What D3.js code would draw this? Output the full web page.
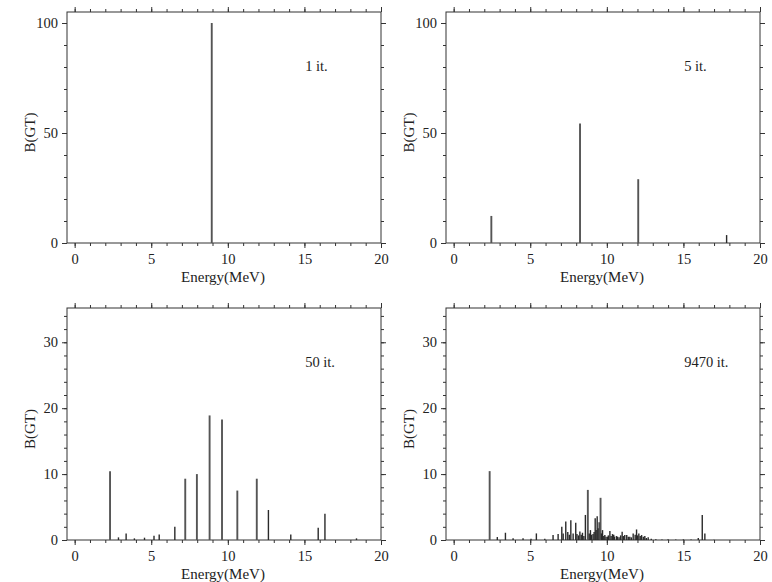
<!DOCTYPE html>
<html><head><meta charset="utf-8">
<script src="https://cdn.jsdelivr.net/npm/d3@7"></script>
<style>
html,body{margin:0;padding:0;background:#fff;}
svg{display:block;}
svg text{font-family:"Liberation Serif","Times New Roman","DejaVu Serif",serif;}
</style></head>
<body><svg id="chart" width="772" height="582"></svg>
<script>
// ---- data ----
const energyTicks = [0, 5, 10, 15, 20];
const energyMinor = d3.range(0, 21, 1);
const bgtTicksTop = [0, 50, 100];
const bgtMinorTop = d3.range(0, 105, 10);
const bgtTicksBottom = [0, 10, 20, 30];
const bgtMinorBottom = d3.range(0, 36, 2);

const iterLabels = ["1 it.", "5 it.", "50 it.", "9470 it."];

const iter1E = [8.95];
const iter1B = [100];

const iter5E = [2.46, 8.25, 12.05, 17.82];
const iter5B = [12.3, 54.3, 29.0, 3.6];

const iter50E = [2.31, 2.86, 3.36, 3.9, 4.56, 5.18, 5.52, 6.54, 7.22, 7.98, 8.81, 9.62, 10.62, 11.89, 12.65, 14.11, 15.9, 16.34, 18.4];
const iter50B = [10.45, 0.4, 1.0, 0.25, 0.35, 0.65, 0.85, 2.0, 9.3, 10.0, 18.9, 18.3, 7.5, 9.3, 4.55, 0.85, 1.85, 4.0, 0.25];

const iter9470E = [2.35, 2.85, 3.38, 3.88, 4.53, 5.05, 5.4, 5.95, 6.49, 6.82, 7.06, 7.15, 7.32, 7.45, 7.55, 7.65, 7.8, 7.97, 8.05, 8.15, 8.24, 8.33, 8.41, 8.5, 8.6, 8.76, 8.85, 8.93, 9.0, 9.1, 9.17, 9.24, 9.3, 9.37, 9.43, 9.5, 9.59, 9.65, 9.72, 9.8, 9.87, 9.95, 10.05, 10.1, 10.2, 10.28, 10.37, 10.45, 10.5, 10.63, 10.7, 10.8, 10.9, 11.0, 11.08, 11.17, 11.3, 11.4, 11.5, 11.6, 11.72, 11.85, 11.94, 12.0, 12.09, 12.18, 12.27, 12.38, 12.48, 12.58, 12.7, 12.9, 13.2, 13.6, 14.0, 14.5, 15.0, 15.5, 15.97, 16.23, 16.4, 17.0];
const iter9470B = [10.45, 0.45, 1.1, 0.25, 0.25, 0.2, 1.0, 0.2, 0.75, 0.9, 2.0, 1.0, 2.8, 1.2, 0.8, 3.0, 1.0, 2.6, 0.9, 0.7, 1.3, 0.8, 1.1, 0.6, 3.8, 7.6, 1.0, 1.5, 0.8, 0.9, 1.2, 3.3, 1.5, 3.6, 1.8, 2.7, 6.4, 1.0, 1.5, 0.6, 0.75, 0.5, 0.5, 0.7, 1.35, 0.6, 0.9, 0.8, 0.5, 0.6, 0.5, 0.4, 0.7, 1.25, 0.6, 0.75, 0.75, 0.5, 0.5, 0.4, 1.0, 0.8, 1.6, 0.7, 1.0, 0.6, 0.75, 0.5, 0.6, 0.3, 0.4, 0.2, 0.1, 0.08, 0.1, 0.08, 0.1, 0.08, 0.3, 3.8, 1.0, 0.05];

// ---- layout ----
const panels = [
  {E: iter1E, B: iter1B, label: iterLabels[0], left: 67, top: 12, right: 381, bottom: 243, ymax: 105, major: bgtTicksTop, minor: bgtMinorTop},
  {E: iter5E, B: iter5B, label: iterLabels[1], left: 446, top: 12, right: 760, bottom: 243, ymax: 105, major: bgtTicksTop, minor: bgtMinorTop},
  {E: iter50E, B: iter50B, label: iterLabels[2], left: 67, top: 308, right: 381, bottom: 540, ymax: 35.2, major: bgtTicksBottom, minor: bgtMinorBottom},
  {E: iter9470E, B: iter9470B, label: iterLabels[3], left: 446, top: 308, right: 760, bottom: 540, ymax: 35.2, major: bgtTicksBottom, minor: bgtMinorBottom}
];

const svg = d3.select("#chart");
const ink = "#333";
const serif = '"Liberation Serif", "Times New Roman", serif';

panels.forEach(p => {
  const x = d3.scaleLinear().domain([-0.5, 20]).range([p.left, p.right]);
  const y = d3.scaleLinear().domain([0, p.ymax]).range([p.bottom, p.top]);
  const g = svg.append("g");

  function styleAxis(sel) {
    sel.attr("font-family", serif);
    sel.select(".domain").remove();
    sel.selectAll(".tick line").attr("stroke", ink).attr("stroke-width", 1);
    sel.selectAll(".tick text").attr("fill", "#222").style("font-size", "14.5px");
  }
  // bottom
  g.append("g").attr("transform", `translate(0,${p.bottom})`)
    .call(d3.axisBottom(x).tickValues(energyMinor).tickSize(3).tickFormat(""))
    .call(styleAxis);
  g.append("g").attr("transform", `translate(0,${p.bottom})`)
    .call(d3.axisBottom(x).tickValues(energyTicks).tickSize(5).tickPadding(6).tickFormat(d3.format("d")))
    .call(styleAxis);
  // top
  g.append("g").attr("transform", `translate(0,${p.top})`)
    .call(d3.axisTop(x).tickValues(energyMinor).tickSize(3).tickFormat(""))
    .call(styleAxis);
  g.append("g").attr("transform", `translate(0,${p.top})`)
    .call(d3.axisTop(x).tickValues(energyTicks).tickSize(5).tickFormat(""))
    .call(styleAxis);
  // left
  g.append("g").attr("transform", `translate(${p.left},0)`)
    .call(d3.axisLeft(y).tickValues(p.minor).tickSize(3).tickFormat(""))
    .call(styleAxis);
  g.append("g").attr("transform", `translate(${p.left},0)`)
    .call(d3.axisLeft(y).tickValues(p.major).tickSize(5).tickPadding(4).tickFormat(d3.format("d")))
    .call(styleAxis);
  // right
  g.append("g").attr("transform", `translate(${p.right},0)`)
    .call(d3.axisRight(y).tickValues(p.minor).tickSize(3).tickFormat(""))
    .call(styleAxis);
  g.append("g").attr("transform", `translate(${p.right},0)`)
    .call(d3.axisRight(y).tickValues(p.major).tickSize(5).tickFormat(""))
    .call(styleAxis);

  // frame
  g.append("rect")
    .attr("x", p.left).attr("y", p.top)
    .attr("width", p.right - p.left).attr("height", p.bottom - p.top)
    .attr("fill", "none").attr("stroke", ink).attr("stroke-width", 1);

  // bars (sticks)
  const pts = p.E.map((e, i) => ({e, b: p.B[i]}));
  g.append("g").selectAll("line").data(pts).join("line")
    .attr("x1", d => x(d.e)).attr("x2", d => x(d.e))
    .attr("y1", y(0)).attr("y2", d => y(d.b))
    .attr("stroke", d => d.b > 5 ? "#555" : "#2a2a2a")
    .attr("stroke-width", d => d.b > 5 ? 1.9 : 1.4);

  // axis titles
  g.append("text")
    .attr("x", (p.left + p.right) / 2 - 1).attr("y", p.bottom + 39)
    .attr("text-anchor", "middle").attr("fill", "#222")
    .style("font-size", "15px").text("Energy(MeV)");
  g.append("text")
    .attr("transform", `translate(${p.left - 32},${(p.top + p.bottom) / 2 + 5}) rotate(-90)`)
    .attr("text-anchor", "middle").attr("fill", "#222")
    .style("font-size", "15px").text("B(GT)");

  // iteration label
  g.append("text")
    .attr("x", x(15.05)).attr("y", p.top + 59)
    .attr("fill", "#222").style("font-size", "14.5px").text(p.label);
});
</script>
</body></html>
